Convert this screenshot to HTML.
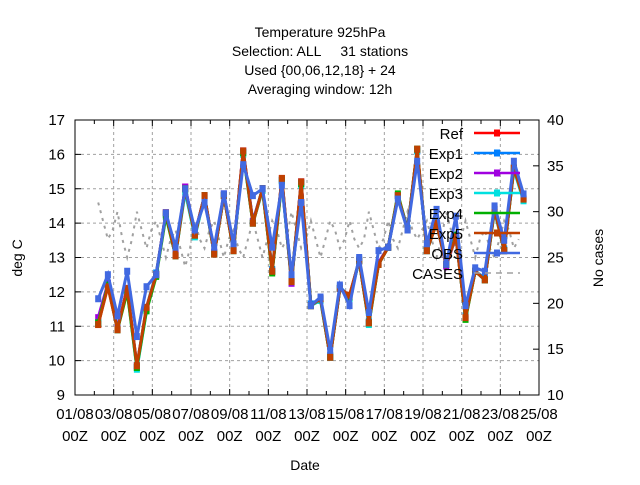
<!DOCTYPE html>
<html><head><meta charset="utf-8"><style>
body{margin:0;background:#fff}
svg text{font-family:"Liberation Sans",sans-serif;font-size:14px;fill:#000;white-space:pre}
svg text.xl{font-size:15px}
</style></head><body>
<svg id="c" width="640" height="480" xmlns="http://www.w3.org/2000/svg"></svg>
<script>
const titleLines=["Temperature 925hPa","Selection: ALL     31 stations","Used {00,06,12,18} + 24","Averaging window: 12h"];
const xTickLabels=["01/08","03/08","05/08","07/08","09/08","11/08","13/08","15/08","17/08","19/08","21/08","23/08","25/08"];
const yTicks=[9,10,11,12,13,14,15,16,17];
const y2Ticks=[10,15,20,25,30,35,40];
const startDay=1.2, stepDay=0.5;
const obs=[11.8,12.5,11.3,12.6,10.7,12.15,12.5,14.3,13.3,15.0,13.8,14.6,13.3,14.85,13.4,15.7,14.8,15.0,13.3,15.1,12.5,14.6,11.6,11.85,10.3,12.2,11.6,13.0,11.4,13.2,13.3,14.7,13.8,15.8,13.4,14.4,12.8,14.2,11.6,12.7,12.6,14.5,13.5,15.8,14.85];
const ref=[11.05,12.2,10.9,12.1,9.8,11.5,12.5,14.3,13.05,15.05,13.65,14.8,13.1,14.8,13.2,16.1,14.0,15.0,12.6,15.3,12.3,15.2,11.6,11.8,10.1,12.1,11.9,12.9,11.1,12.8,13.3,14.8,13.8,16.15,13.2,14.0,12.8,13.6,11.25,12.6,12.35,14.4,13.2,15.6,14.7];
const exp1=[11.1,12.25,10.95,12.05,9.85,11.55,12.55,14.25,13.1,15.0,13.7,14.75,13.15,14.85,13.25,16.05,14.05,15.0,12.65,15.25,12.35,15.15,11.65,11.8,10.15,12.15,11.85,12.95,11.15,12.85,13.3,14.8,13.85,16.1,13.25,14.05,12.8,13.65,11.3,12.6,12.4,14.45,13.25,15.6,14.75];
const exp2=[11.25,12.25,10.95,12.1,9.85,11.5,12.5,14.3,13.1,15.05,13.7,14.8,13.15,14.85,13.25,16.1,14.05,15.0,12.6,15.25,12.25,15.2,11.6,11.8,10.1,12.1,11.85,12.9,11.1,12.85,13.3,14.8,13.8,16.1,13.2,14.0,12.75,13.6,11.25,12.6,12.35,14.4,13.2,15.6,14.7];
const exp3=[11.1,12.2,10.9,12.05,9.75,11.45,12.5,14.25,13.05,14.9,13.6,14.75,13.1,14.8,13.2,16.0,14.0,14.95,12.6,15.2,12.3,15.1,11.6,11.75,10.1,12.1,11.8,12.9,11.05,12.8,13.3,14.75,13.8,16.1,13.2,14.0,12.8,13.6,11.25,12.6,12.35,14.35,13.2,15.55,14.65];
const exp4=[11.1,12.2,10.9,12.0,9.8,11.45,12.45,14.2,13.05,15.0,13.65,14.8,13.1,14.8,13.2,16.05,14.0,15.0,12.55,15.25,12.3,15.15,11.6,11.8,10.1,12.1,11.85,12.9,11.1,12.8,13.3,14.85,13.8,16.15,13.2,14.0,12.8,13.65,11.2,12.6,12.35,14.4,13.2,15.6,14.7];
const exp5=[11.05,12.15,10.9,12.1,9.85,11.55,12.5,14.3,13.05,15.0,13.65,14.8,13.1,14.8,13.2,16.1,14.0,15.0,12.6,15.3,12.3,15.2,11.6,11.8,10.1,12.1,11.9,12.9,11.1,12.8,13.3,14.8,13.8,16.15,13.2,14.0,12.8,13.6,11.25,12.6,12.35,14.4,13.2,15.6,14.7];
const casesStep=0.25;
const cases=[31,29,27,28,30,27,25,27,30,28,26,28,29,27,25,27,28,26,24,26,29,27,26,28,29,27,25,27,28,26,25,27,29,27,25,27,29,28,26,27,30,28,26,27,29,27,25,27,29,28,26,27,29,27,26,27,30,28,26,27,29,27,26,28,30,28,27,28,29,27,25,27,30,28,26,27,29,27,25,27,28,26,25,27,29,28,26,27];
const L=75,R=539,T=120,B=395;
const xs=d=>L+(d/24)*(R-L);
const ys=v=>B-(v-9)/8*(B-T);
const y2=v=>B-(v-10)/30*(B-T);
const svg=document.getElementById('c');
const NS="http://www.w3.org/2000/svg";
function mk(tag,attrs,parent){const e=document.createElementNS(NS,tag);for(const k in attrs)e.setAttribute(k,attrs[k]);(parent||svg).appendChild(e);return e;}
titleLines.forEach((t,i)=>{const e=mk('text',{x:320,y:37+i*19,'text-anchor':'middle'});e.textContent=t;

});
yTicks.forEach(v=>{if(v>9&&v<17){const g=mk('line',{x1:L,x2:R,y1:ys(v),y2:ys(v),stroke:'#a0a0a0','stroke-dasharray':'3,3'});

}
const t=mk('text',{x:L-10,y:ys(v)+5,'text-anchor':'end',class:'xl'});t.textContent=v;


mk('line',{x1:L,x2:L+6,y1:ys(v),y2:ys(v),stroke:'#000'});});
y2Ticks.forEach(v=>{const t=mk('text',{x:R+8,y:y2(v)+5,class:'xl'});t.textContent=v;


mk('line',{x1:R-6,x2:R,y1:y2(v),y2:y2(v),stroke:'#000'});});
xTickLabels.forEach((lab,i)=>{const x=xs(i*2);
if(i>0&&i<12){const g=mk('line',{x1:x,x2:x,y1:T,y2:B,stroke:'#a0a0a0','stroke-dasharray':'3,3'});

}
const t=mk('text',{x:x,y:419,'text-anchor':'middle',class:'xl'});t.textContent=lab;


const t2=mk('text',{x:x,y:441,'text-anchor':'middle',class:'xl'});t2.textContent='00Z';

});
for(let d=0;d<=24;d++){const x=xs(d);mk('line',{x1:x,x2:x,y1:B,y2:B-(d%2?4:6),stroke:'#000'});mk('line',{x1:x,x2:x,y1:T,y2:T+(d%2?4:6),stroke:'#000'});}
const fr=mk('rect',{x:L,y:T,width:R-L,height:B-T,fill:'none',stroke:'#000','stroke-width':1});


const a1=mk('text',{x:0,y:0,transform:'translate(22,258) rotate(-90)','text-anchor':'middle'});a1.textContent='deg C';


const a2=mk('text',{x:0,y:0,transform:'translate(603,258) rotate(-90)','text-anchor':'middle'});a2.textContent='No cases';


const a3=mk('text',{x:305,y:470,'text-anchor':'middle'});a3.textContent='Date';


const cp=cases.map((v,i)=>xs(startDay+i*casesStep).toFixed(1)+','+y2(v).toFixed(1)).join(' ');
const cl=mk('polyline',{points:cp,fill:'none',stroke:'#a0a0a0','stroke-width':2,'stroke-dasharray':'3,5'});


const series=[["Ref",ref,"#ff0000"],["Exp1",exp1,"#0080ff"],["Exp2",exp2,"#a000e0"],["Exp3",exp3,"#00e0e0"],["Exp4",exp4,"#00b000"],["Exp5",exp5,"#c04000"],["OBS",obs,"#4169e1"]];
series.forEach(([name,data,col])=>{
const g=mk('g',{});


mk('polyline',{points:data.map((v,i)=>xs(startDay+i*stepDay).toFixed(1)+','+ys(v).toFixed(1)).join(' '),fill:'none',stroke:col,'stroke-width':3},g);
data.forEach((v,i)=>{const p=mk('rect',{x:xs(startDay+i*stepDay)-3,y:ys(v)-3.5,width:6,height:7,fill:col},g);

});
});
const legNames=["Ref","Exp1","Exp2","Exp3","Exp4","Exp5","OBS","CASES"];
const legCols=["#ff0000","#0080ff","#a000e0","#00e0e0","#00b000","#c04000","#4169e1","#a0a0a0"];
legNames.forEach((n,i)=>{const y=133+i*20;
const g=mk('g',{});


const t=mk('text',{x:463,y:y+6,'text-anchor':'end',class:'xl'},g);t.textContent=n;
if(n==="CASES"){mk('line',{x1:474,x2:520,y1:y,y2:y,stroke:legCols[i],'stroke-width':1.5,'stroke-dasharray':'6,5'},g);}
else{mk('line',{x1:474,x2:520,y1:y,y2:y,stroke:legCols[i],'stroke-width':2.5},g);
if(n!=="Exp4")mk('rect',{x:494,y:y-3.5,width:6,height:7,fill:legCols[i]},g);}
});
</script>
</body></html>
